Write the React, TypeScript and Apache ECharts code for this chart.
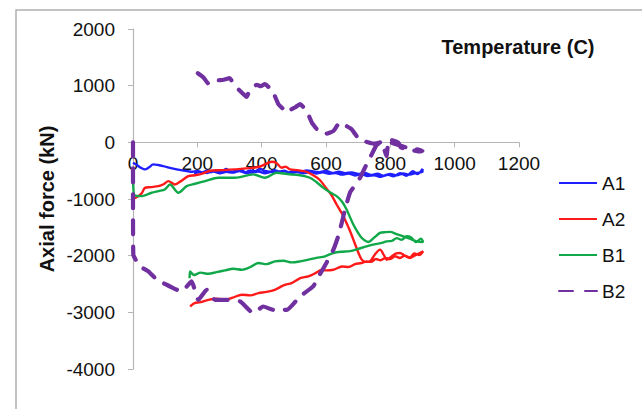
import React, { useEffect, useRef } from "react";
import * as echarts from "echarts";

// Axis ticks
const xTicks = [0, 200, 400, 600, 800, 1000, 1200];
const yTicks = [-4000, -3000, -2000, -1000, 0, 1000, 2000];

const seriesNames = ["A1", "A2", "B1", "B2"];

// A1 heating / cooling
const a1HeatTemp = [0, 12, 25, 37, 50, 63, 78, 94, 115, 136, 167, 185, 200, 215, 230, 245, 260, 275, 290, 305, 320, 335, 350, 365, 380, 395, 410, 425, 440, 455, 470, 485, 500, 520, 540, 560, 580, 600, 620, 640, 660, 680, 700, 720, 740, 760, 780, 800, 820, 840, 860, 880, 900];
const a1HeatForce = [-360, -400, -450, -478, -440, -389, -400, -419, -450, -478, -507, -520, -505, -530, -500, -525, -490, -515, -470, -520, -500, -480, -530, -495, -510, -470, -505, -520, -490, -515, -500, -530, -505, -520, -495, -515, -525, -505, -540, -520, -545, -530, -560, -540, -575, -555, -590, -560, -580, -550, -570, -540, -520];
const a1CoolTemp = [900, 885, 870, 850, 830, 810, 790, 770, 750, 730, 710, 690, 670, 650, 630, 610, 590, 570, 550, 530, 510, 490, 470, 450, 430, 410, 390, 370, 350, 330, 310, 290, 270, 250, 230, 210, 190];
const a1CoolForce = [-470, -560, -510, -590, -545, -600, -570, -610, -580, -595, -560, -585, -550, -570, -540, -555, -530, -550, -520, -545, -525, -540, -510, -535, -520, -545, -515, -530, -540, -505, -535, -520, -545, -515, -540, -525, -550];

// A2
const a2HeatTemp = [0, 16, 27, 37, 55, 79, 95, 110, 130, 150, 172, 192, 213, 245, 280, 317, 350, 390, 410, 431, 445, 462, 475, 488, 510, 540, 560, 580, 602, 618, 633, 654, 675, 695, 711, 725, 737, 752, 768, 780, 789, 805, 818, 830, 845, 861, 875, 892, 902];
const a2HeatForce = [-1000, -950, -900, -803, -790, -773, -740, -684, -743, -680, -596, -580, -555, -496, -490, -478, -460, -436, -390, -342, -360, -448, -430, -478, -490, -520, -580, -660, -820, -940, -1097, -1304, -1570, -1864, -2071, -2110, -2100, -1980, -1894, -1990, -2071, -2010, -1960, -1953, -2000, -2041, -2000, -1953, -1923];
const a2CoolTemp = [902, 890, 875, 860, 845, 830, 815, 800, 785, 770, 755, 740, 726, 710, 690, 670, 650, 623, 600, 587, 570, 545, 520, 493, 470, 441, 415, 390, 365, 338, 310, 286, 260, 234, 210, 190, 180, 178];
const a2CoolForce = [-1923, -1990, -1960, -2030, -2000, -2041, -2010, -2060, -2040, -2080, -2060, -2110, -2100, -2130, -2150, -2200, -2190, -2248, -2260, -2248, -2300, -2366, -2395, -2483, -2520, -2602, -2640, -2660, -2700, -2690, -2740, -2779, -2760, -2779, -2820, -2840, -2885, -2900];

// B1
const b1HeatTemp = [0, 3, 27, 58, 80, 99, 115, 141, 167, 193, 224, 265, 317, 374, 410, 447, 480, 519, 550, 570, 592, 612, 633, 650, 664, 685, 700, 711, 731, 750, 768, 785, 799, 820, 840, 860, 882, 902];
const b1HeatForce = [-480, -920, -950, -890, -860, -832, -743, -890, -773, -731, -684, -625, -625, -566, -625, -537, -560, -580, -625, -700, -803, -880, -950, -1050, -1186, -1451, -1600, -1687, -1758, -1680, -1599, -1585, -1581, -1620, -1658, -1700, -1747, -1760];
const b1CoolTemp = [902, 895, 880, 865, 851, 835, 820, 805, 789, 770, 750, 726, 700, 675, 650, 623, 597, 570, 545, 520, 493, 468, 441, 415, 390, 365, 338, 312, 286, 260, 234, 210, 190, 177, 176];
const b1CoolForce = [-1760, -1700, -1760, -1680, -1658, -1720, -1690, -1740, -1747, -1780, -1800, -1835, -1880, -1920, -1930, -1953, -2012, -2040, -2071, -2100, -2118, -2090, -2100, -2150, -2130, -2200, -2248, -2230, -2260, -2290, -2320, -2300, -2340, -2277, -2400];

// B2
const b2HeatTemp = [0, 0, 1, 22, 48, 74, 94, 125, 151, 182, 203, 229, 255, 291, 333, 374, 405, 436, 478, 519, 560, 581, 602, 623, 638, 649, 659, 675, 690, 706, 721, 737, 758, 773, 788, 796, 825, 832, 860, 892, 900];
const b2HeatForce = [0, -1000, -1982, -2189, -2277, -2425, -2483, -2572, -2631, -2455, -2779, -2602, -2779, -2779, -2808, -3014, -2897, -2956, -2956, -2720, -2543, -2330, -2120, -1894, -1658, -1421, -1186, -880, -760, -625, -448, -271, -40, -5, -242, 53, -5, -88, -130, -160, -150];
const b2CoolTemp = [900, 880, 850, 820, 800, 780, 747, 725, 706, 690, 680, 660, 643, 623, 602, 581, 556, 540, 519, 505, 493, 478, 465, 452, 436, 423, 410, 397, 385, 364, 353, 338, 317, 300, 285, 270, 245, 234, 219, 198, 172];
const b2CoolForce = [-150, -120, -90, -40, 0, 10, -23, 10, 35, 150, 230, 300, 349, 200, 154, 172, 349, 554, 673, 620, 584, 526, 600, 673, 880, 968, 1026, 990, 1014, 938, 802, 880, 997, 1133, 1110, 1097, 1085, 1039, 1145, 1234, 1322];

const colors = ["#1f1fff", "#ff1a1a", "#11a84a", "#7030a0"];

function pairs(t1: number[], f1: number[], t2: number[], f2: number[]) {
  const out: number[][] = [];
  t1.forEach((t, i) => out.push([t, f1[i]]));
  t2.forEach((t, i) => out.push([t, f2[i]]));
  return out;
}

const FONT = "'Liberation Sans', Arial, sans-serif";

const GRID_TOP = 29;
const GRID_H = 340;

export default function App() {
  const ref = useRef<HTMLDivElement>(null);
  useEffect(() => {
    const chart = echarts.init(ref.current!, null, { renderer: "svg" });
    const datas = [
      pairs(a1HeatTemp, a1HeatForce, a1CoolTemp, a1CoolForce),
      pairs(a2HeatTemp, a2HeatForce, a2CoolTemp, a2CoolForce),
      pairs(b1HeatTemp, b1HeatForce, b1CoolTemp, b1CoolForce),
      pairs(b2HeatTemp, b2HeatForce, b2CoolTemp, b2CoolForce),
    ];
    const yMin = yTicks[0];
    const yMax = yTicks[yTicks.length - 1];
    const zeroOffset = ((0 - yMin) / (yMax - yMin)) * GRID_H;
    chart.setOption({
      animation: false,
      backgroundColor: "#ffffff",
      grid: { left: 133, top: GRID_TOP, width: 386, height: GRID_H, containLabel: false },
      xAxis: {
        type: "value",
        position: "bottom",
        offset: -zeroOffset,
        min: xTicks[0],
        max: xTicks[xTicks.length - 1],
        interval: xTicks[1] - xTicks[0],
        axisLine: { onZero: false, lineStyle: { color: "#b5b5b5", width: 1.2 } },
        axisTick: { show: true, inside: false, length: 5, lineStyle: { color: "#b5b5b5" } },
        axisLabel: {
          fontFamily: FONT,
          fontSize: 19,
          color: "#111",
          margin: 12,
          formatter: (v: number) => String(v),
        },
        splitLine: { show: false },
      },
      yAxis: {
        type: "value",
        min: yMin,
        max: yMax,
        interval: yTicks[1] - yTicks[0],
        axisLine: { show: true, onZero: false, lineStyle: { color: "#b5b5b5", width: 1.2 } },
        axisTick: { show: true, inside: false, length: 5, lineStyle: { color: "#b5b5b5" } },
        axisLabel: {
          fontFamily: FONT,
          fontSize: 19,
          color: "#111",
          margin: 18,
          formatter: (v: number) => String(v),
        },
        splitLine: { show: false },
      },
      legend: {
        orient: "vertical",
        left: 553,
        top: 168,
        itemWidth: 38,
        itemHeight: 14,
        itemGap: 16,
        itemStyle: { opacity: 0 },
        textStyle: { fontFamily: FONT, fontSize: 19, color: "#111", lineHeight: 20 },
        data: seriesNames,
      },
      graphic: [
        {
          type: "rect",
          shape: { x: 16, y: 10, width: 700, height: 500 },
          style: { fill: "none", stroke: "#b0b0b0", lineWidth: 1.5 },
          silent: true,
        },
        {
          type: "text",
          x: 518,
          y: 47,
          style: {
            text: "Temperature (C)",
            font: `bold 20px ${FONT}`,
            fill: "#111",
            textAlign: "center",
            textVerticalAlign: "middle",
          },
        },
        {
          type: "text",
          x: 47,
          y: 199,
          rotation: Math.PI / 2,
          style: {
            text: "Axial force (kN)",
            font: `bold 20px ${FONT}`,
            fill: "#111",
            textAlign: "center",
            textVerticalAlign: "middle",
          },
        },
      ],
      series: seriesNames.map((name, i) => ({
        name,
        type: "line",
        data: datas[i],
        showSymbol: false,
        symbol: "none",
        smooth: i === 3 ? 0.15 : 0.3,
        color: colors[i],
        lineStyle:
          i === 3
            ? { color: colors[i], width: 4.2, type: [14, 12], cap: "round" }
            : { color: colors[i], width: 2.4 },
      })),
    });
    return () => chart.dispose();
  }, []);
  return (
    <div
      ref={ref}
      style={{ position: "fixed", left: 0, top: 0, width: 642, height: 409, background: "#fff" }}
    />
  );
}
